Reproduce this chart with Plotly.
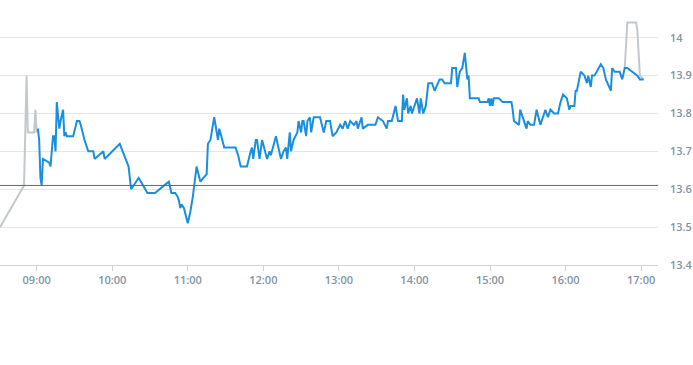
import plotly.graph_objects as go

DAY = "2024-01-02 "

# Regular session (blue)
blue_times = ["09:01","09:02","09:03","09:04","09:05","09:10","09:11","09:13","09:14","09:15",
 "09:16","09:18","09:19","09:21","09:22","09:23","09:24","09:29","09:32","09:34",
 "09:35","09:38","09:41","09:43","09:45","09:46","09:53","09:54","10:06","10:13",
 "10:15","10:21","10:28","10:34","10:45","10:47","10:50","10:52","10:53","10:54",
 "10:55","10:57","11:00","11:02","11:04","11:07","11:10","11:15","11:16","11:18",
 "11:21","11:24","11:25","11:29","11:38","11:40","11:42","11:44","11:47","11:50",
 "11:51","11:52","11:54","11:55","11:57","11:59","12:03","12:05","12:06","12:10",
 "12:14","12:16","12:18","12:19","12:21","12:22","12:24","12:27","12:28","12:30",
 "12:31","12:32","12:34","12:35","12:37","12:38","12:40","12:45","12:48","12:50",
 "12:53","12:55","12:58","13:01","13:03","13:05","13:07","13:09","13:12","13:14",
 "13:15","13:18","13:19","13:23","13:29","13:31","13:35","13:38","13:39","13:42",
 "13:45","13:47","13:50","13:51","13:52","13:54","13:55","13:57","13:58","14:02",
 "14:04","14:05","14:07","14:09","14:11","14:14","14:16","14:20","14:22","14:24",
 "14:29","14:30","14:33","14:34","14:36","14:38","14:40","14:42","14:43","14:44",
 "14:51","14:52","14:58","14:59","15:00","15:01","15:02","15:03","15:07","15:10",
 "15:17","15:18","15:19","15:23","15:24","15:27","15:29","15:30","15:32","15:35",
 "15:37","15:40","15:44","15:46","15:48","15:51","15:54","15:56","15:58","16:01",
 "16:03","16:04","16:07","16:08","16:09","16:12","16:15","16:17","16:18","16:20",
 "16:21","16:23","16:28","16:30","16:32","16:36","16:37","16:39","16:43","16:45",
 "16:47","16:49","16:57","16:59","17:02"]
blue_prices = [13.76,13.73,13.63,13.61,13.68,13.67,13.66,13.74,13.74,13.70,
 13.83,13.76,13.78,13.81,13.74,13.75,13.74,13.74,13.78,13.78,
 13.77,13.73,13.70,13.70,13.70,13.68,13.70,13.68,13.72,13.66,
 13.60,13.63,13.59,13.59,13.62,13.59,13.59,13.58,13.57,13.55,
 13.56,13.55,13.51,13.54,13.58,13.66,13.62,13.64,13.72,13.73,
 13.79,13.73,13.76,13.71,13.71,13.69,13.66,13.66,13.66,13.70,
 13.71,13.68,13.73,13.73,13.68,13.73,13.68,13.70,13.69,13.74,
 13.68,13.70,13.71,13.68,13.75,13.70,13.73,13.75,13.78,13.75,
 13.78,13.78,13.74,13.78,13.79,13.75,13.79,13.79,13.75,13.78,
 13.78,13.74,13.75,13.77,13.76,13.78,13.76,13.78,13.77,13.78,
 13.76,13.79,13.76,13.77,13.77,13.79,13.78,13.76,13.78,13.78,
 13.82,13.78,13.78,13.85,13.81,13.84,13.80,13.82,13.80,13.84,
 13.80,13.84,13.80,13.82,13.88,13.88,13.86,13.89,13.89,13.88,
 13.88,13.92,13.92,13.87,13.91,13.92,13.96,13.89,13.90,13.84,
 13.84,13.83,13.83,13.84,13.82,13.84,13.82,13.84,13.84,13.83,
 13.83,13.81,13.78,13.77,13.81,13.78,13.76,13.78,13.77,13.77,
 13.81,13.77,13.81,13.79,13.81,13.80,13.80,13.83,13.85,13.84,
 13.81,13.82,13.82,13.86,13.86,13.91,13.90,13.88,13.90,13.87,
 13.90,13.90,13.93,13.92,13.89,13.86,13.92,13.91,13.91,13.89,
 13.92,13.92,13.90,13.89,13.89]

# Extended hours (gray)
pre_times = ["08:31","08:50","08:52","08:53","08:58","08:59","09:00","09:01"]
pre_prices = [13.50,13.61,13.90,13.75,13.75,13.81,13.75,13.76]
post_times = ["16:47","16:49","16:56","16:57","16:59","17:02"]
post_prices = [13.92,14.04,14.04,14.02,13.90,13.89]

prev_close = 13.61

x_ticks = ["09:00","10:00","11:00","12:00","13:00","14:00","15:00","16:00","17:00"]
y_ticks = [13.4, 13.5, 13.6, 13.7, 13.8, 13.9, 14.0]
y_tick_text = ["13.4", "13.5", "13.6", "13.7", "13.8", "13.9", "14"]
x_range = ["08:30:54", "17:13:24"]
y_range = [13.4, 14.06]

gray_x = [DAY + t for t in pre_times] + [None] + [DAY + t for t in post_times]
gray_y = pre_prices + [None] + post_prices

fig = go.Figure()
fig.add_trace(go.Scatter(x=gray_x, y=gray_y, mode="lines",
                         line=dict(color="#c3c8cd", width=2), connectgaps=False,
                         hoverinfo="skip"))
fig.add_trace(go.Scatter(x=[DAY + t for t in blue_times], y=blue_prices, mode="lines",
                         line=dict(color="#1a8fe0", width=2)))
fig.add_shape(type="line", xref="paper", x0=0, x1=1, yref="y", y0=prev_close, y1=prev_close,
              line=dict(color="#e0352e", width=1))

tick_font = dict(family="Open Sans, Lato, sans-serif", size=11, color="#8493a3", weight=600)

fig.update_layout(
    width=693, height=365,
    margin=dict(l=0, r=29, t=15, b=100),
    plot_bgcolor="white", paper_bgcolor="white",
    showlegend=False,
    xaxis=dict(
        type="date",
        range=[DAY + x_range[0], DAY + x_range[1]],
        tickvals=[DAY + t for t in x_ticks], ticktext=x_ticks,
        showgrid=False, zeroline=False,
        showline=True, linecolor="#ccd3db", linewidth=1,
        ticks="outside", ticklen=5, tickcolor="#ccd3db",
        tickfont=tick_font,
    ),
    yaxis=dict(
        side="right", range=y_range,
        tickvals=y_ticks, ticktext=y_tick_text,
        showgrid=True, gridcolor="#e6e6e6", gridwidth=1,
        zeroline=False, showline=False, ticks="",
        ticklabelstandoff=11,
        tickfont=tick_font,
    ),
)

fig.write_html("out.html")
